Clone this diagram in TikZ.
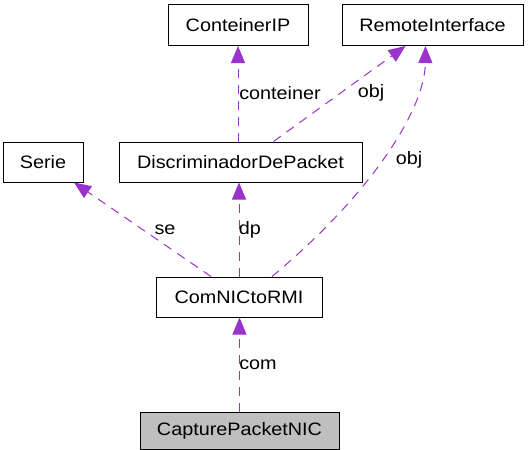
\documentclass[tikz,border=0pt]{standalone}
\usepackage{fontspec}
\setmainfont{Liberation Sans}
\newfontfamily\dotfont[FakeStretch=1.1]{Liberation Sans}
\usepackage{xcolor}
\usepackage{tikz}
\usetikzlibrary{arrows.meta}
\definecolor{usage}{HTML}{9A32CD}
\definecolor{focus}{HTML}{BFBFBF}

\begin{document}
\begin{tikzpicture}[x=1pt,y=-1pt,
    cls/.style={draw=black,line width=1pt,minimum height=40pt,inner sep=0pt,font=\dotfont\fontsize{18}{20}\selectfont},
    useedge/.style={usage,line width=1pt,dash pattern=on 9pt off 7pt,-{Triangle[length=17pt,width=14pt]}},
    elabel/.style={font=\dotfont\fontsize{18}{20}\selectfont,inner sep=0pt}]
  \useasboundingbox (0,0) rectangle (528,450);
  \node[cls,minimum width=140pt,minimum height=41pt] (conteiner) at (238,25)    {ConteinerIP};
  \node[cls,minimum width=181pt,minimum height=41pt] (remote)    at (432.5,25)  {RemoteInterface};
  \node[cls,minimum width=80pt]  (serie)   at (43,162)    {Serie};
  \node[cls,minimum width=243pt] (discr)   at (240.5,162) {DiscriminadorDePacket};
  \node[cls,minimum width=166pt] (comnic)  at (239,297)   {ComNICtoRMI};
  \node[cls,fill=focus,minimum width=199pt,minimum height=37pt] (capture) at (239.5,431) {CapturePacketNIC};
  % usage edges
  \draw[useedge] (discr.north -| conteiner.south) -- (conteiner.south);
  \draw[useedge] ([xshift=33pt]discr.north) -- ([xshift=-27pt]remote.south);
  \draw[useedge] ([xshift=33pt]comnic.north) .. controls (370,195) and (425,110) .. ([xshift=-7pt]remote.south);
  \draw[useedge] ([xshift=-28pt]comnic.north) -- ([xshift=31pt]serie.south);
  \draw[useedge] (comnic.north) -- (comnic.north |- discr.south);
  \draw[useedge] (capture.north) -- (capture.north |- comnic.south);
  \node[elabel] (lcont) at (280,93)  {conteiner};
  \node[elabel] (lobja) at (371,93)  {obj};
  \node[elabel] (lobjb) at (409,160) {obj};
  \node[elabel] (lse)   at (165,230) {se};
  \node[elabel] (ldp)   at (250,230) {dp};
  \node[elabel] (lcom)  at (258,365) {com};
\end{tikzpicture}
\end{document}
